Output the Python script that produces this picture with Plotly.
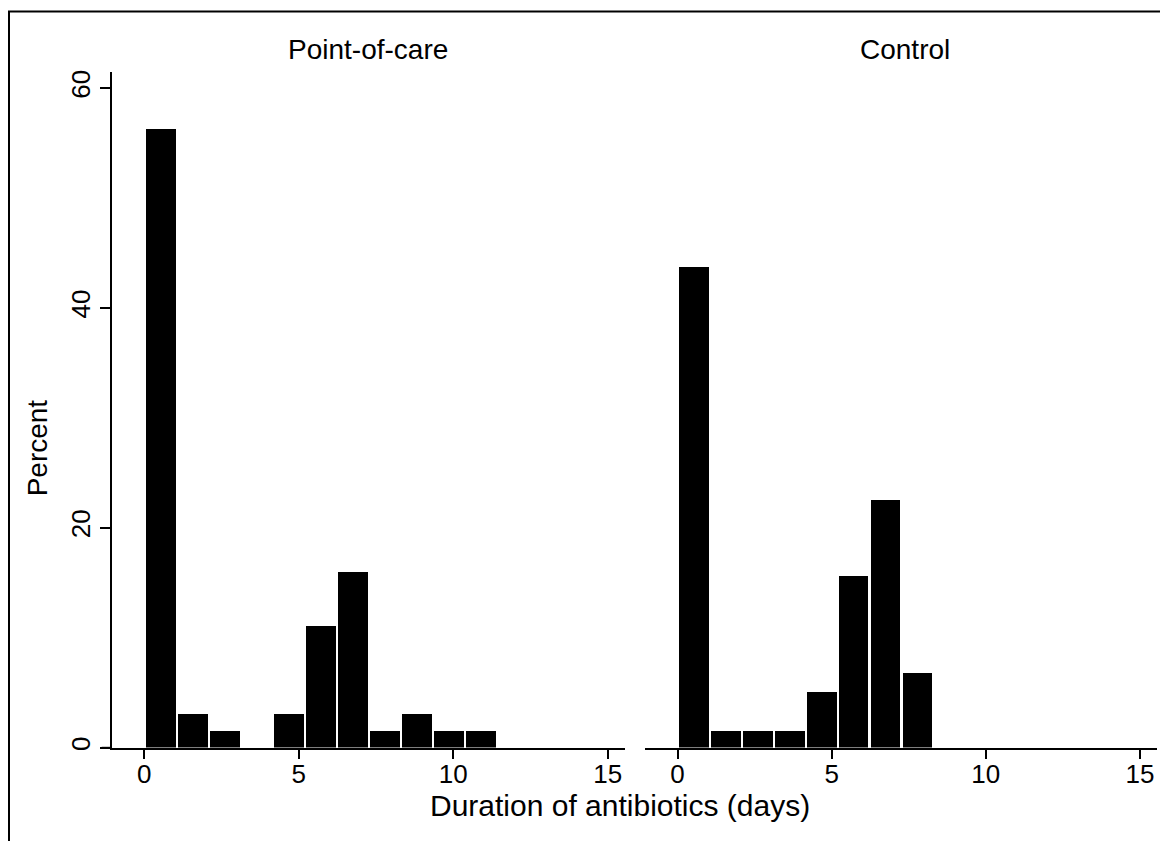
import plotly.graph_objects as go

# ---- data ----
bin_centers_poc = [0.54, 1.57, 2.61, 3.64, 4.68, 5.71, 6.75, 7.78, 8.81, 9.85, 10.88]
percent_poc = [56.3, 3.1, 1.5, 0.0, 3.1, 11.1, 16.0, 1.5, 3.1, 1.5, 1.5]
bin_centers_ctl = [0.54, 1.57, 2.61, 3.64, 4.68, 5.71, 6.75, 7.78]
percent_ctl = [43.8, 1.5, 1.5, 1.5, 5.1, 15.6, 22.6, 6.85]
panel_titles = ["Point-of-care", "Control"]
x_ticks = [0, 5, 10, 15]
y_ticks = [0, 20, 40, 60]
x_title = "Duration of antibiotics (days)"
y_title = "Percent"

# the page body has an 8px margin, so the figure starts at (8, 8)
OFF = 8
W, H = 1160, 833
FONT = "Arial, Liberation Sans, sans-serif"


def px(x):
    return (x - OFF) / W


def py(y):
    return 1 - (y - OFF) / H


BAR_W = 0.96

fig = go.Figure()
fig.add_trace(go.Bar(x=bin_centers_poc, y=percent_poc, width=BAR_W,
                     marker=dict(color="black", line=dict(width=0)),
                     xaxis="x", yaxis="y", showlegend=False))
fig.add_trace(go.Bar(x=bin_centers_ctl, y=percent_ctl, width=BAR_W,
                     marker=dict(color="black", line=dict(width=0)),
                     xaxis="x2", yaxis="y2", showlegend=False))

xr = [-1.055, 15.56]
yr = [0, 61.5]
ydom = [py(750), py(70)]
tickfont = dict(family=FONT, size=26, color="black")

xaxis_common = dict(range=xr, tickvals=x_ticks, ticks="outside", ticklen=10,
                    tickwidth=1.5, tickcolor="black", showline=True,
                    linecolor="black", linewidth=1.5, showgrid=False,
                    zeroline=False, tickfont=tickfont, fixedrange=True,
                    ticklabelstandoff=-7)

fig.update_layout(
    width=W, height=H,
    margin=dict(l=0, r=0, t=0, b=0),
    paper_bgcolor="white", plot_bgcolor="white",
    bargap=0,
    xaxis=dict(domain=[px(111.7), px(625)], anchor="y", **xaxis_common),
    xaxis2=dict(domain=[px(645), px(1157.2)], anchor="y2", **xaxis_common),
    yaxis=dict(domain=ydom, range=yr, tickvals=y_ticks, ticks="outside",
               ticklen=10, tickwidth=1.5, tickcolor="black", showline=True,
               linecolor="black", linewidth=1.5, showgrid=False,
               zeroline=False, tickangle=-90, tickfont=tickfont,
               anchor="x", fixedrange=True),
    yaxis2=dict(domain=ydom, range=yr, showline=False, showticklabels=False,
                ticks="", showgrid=False, zeroline=False, anchor="x2",
                fixedrange=True),
    showlegend=False,
)

# extension of the left panel's x-axis line (Stata style)
fig.add_shape(type="line", xref="paper", yref="paper",
              x0=px(101.7), x1=px(111.7), y0=py(750), y1=py(750),
              line=dict(color="black", width=1.5))

# outer frame
fig.add_shape(type="rect", xref="paper", yref="paper",
              x0=px(9), x1=px(1190), y0=py(870), y1=py(9.5),
              line=dict(color="black", width=2), fillcolor="rgba(0,0,0,0)")

# panel titles
for t, cx in zip(panel_titles, [368, 905]):
    fig.add_annotation(text=t, x=px(cx), y=py(48), xref="paper", yref="paper",
                       showarrow=False, xanchor="center", yanchor="middle",
                       font=dict(family=FONT, size=28, color="black"))

# axis titles
fig.add_annotation(text=x_title, x=px(620), y=py(808), xref="paper",
                   yref="paper", showarrow=False, xanchor="center",
                   yanchor="middle",
                   font=dict(family=FONT, size=30, color="black"))
fig.add_annotation(text=y_title, x=px(37), y=py(449), xref="paper",
                   yref="paper", showarrow=False, xanchor="center",
                   yanchor="middle", textangle=-90,
                   font=dict(family=FONT, size=28, color="black"))

fig.write_html("out.html")
